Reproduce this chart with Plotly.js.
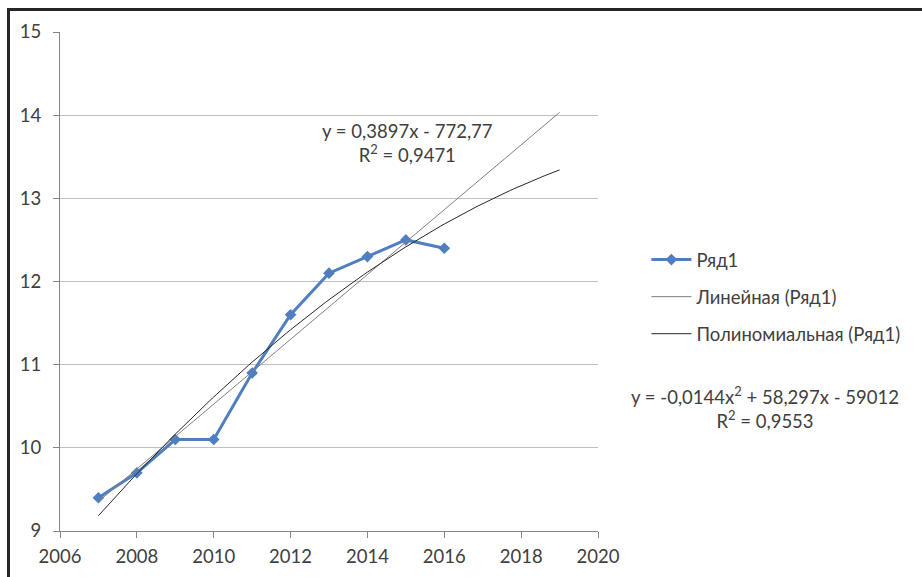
<!DOCTYPE html>
<html>
<head>
<meta charset="utf-8">
<script src="https://cdn.plot.ly/plotly-3.0.1.min.js"></script>
<style>
  html, body { margin: 0; padding: 0; background: #ffffff; }
  #frame { position: absolute; left: 7px; top: 8px; width: 1000px; height: 1000px;
           border-left: 3px solid #262626; border-top: 3px solid #262626; }
  #chart { position: absolute; left: 0; top: 0; width: 922px; height: 577px; }
</style>
</head>
<body>
<div id="frame"></div>
<div id="chart"></div>
<script>
// Data
const years = [2007, 2008, 2009, 2010, 2011, 2012, 2013, 2014, 2015, 2016];
const values = [9.4, 9.7, 10.1, 10.1, 10.9, 11.6, 12.1, 12.3, 12.5, 12.4];
const seriesName = "Ряд1";
const linearName = "Линейная (Ряд1)";
const polyName = "Полиномиальная (Ряд1)";
const linearLabel = "y = 0,3897x - 772,77<br>R<sup>2</sup> = 0,9471";
const polyLabel = "y = -0,0144x<sup>2</sup> + 58,297x - 59012<br>R<sup>2</sup> = 0,9553";
const forecastForward = 3; // trendline forecast periods

// Least-squares fits computed from the data (as the spreadsheet does)
const n = years.length;
const xm = years.reduce((a, b) => a + b, 0) / n;
const t = years.map(x => x - xm);
const S2 = t.reduce((a, v) => a + v * v, 0);
const S3 = t.reduce((a, v) => a + v * v * v, 0);
const S4 = t.reduce((a, v) => a + v * v * v * v, 0);
const Sy = values.reduce((a, b) => a + b, 0);
const Sty = t.reduce((a, v, i) => a + v * values[i], 0);
const St2y = t.reduce((a, v, i) => a + v * v * values[i], 0);
const linB = Sty / S2, linA = Sy / n;
function solve3(M, r) {
  const A = M.map((row, i) => row.concat([r[i]]));
  for (let c = 0; c < 3; c++) {
    let p = c; for (let k = c + 1; k < 3; k++) if (Math.abs(A[k][c]) > Math.abs(A[p][c])) p = k;
    [A[c], A[p]] = [A[p], A[c]];
    for (let k = 0; k < 3; k++) if (k !== c) {
      const f = A[k][c] / A[c][c];
      for (let j = c; j < 4; j++) A[k][j] -= f * A[c][j];
    }
  }
  return [A[0][3] / A[0][0], A[1][3] / A[1][1], A[2][3] / A[2][2]];
}
const [qa, qb, qc] = solve3([[n, 0, S2], [0, S2, S3], [S2, S3, S4]], [Sy, Sty, St2y]);

const x0 = years[0], x1 = years[n - 1] + forecastForward;
const tx = [];
for (let k = 0; k <= 120; k++) tx.push(x0 + (x1 - x0) * k / 120);
const linY = tx.map(x => linA + linB * (x - xm));
const polyY = tx.map(x => { const u = x - xm; return qa + qb * u + qc * u * u; });

const txtColor = "#404040";
const fontFam = "Lato, 'Open Sans', sans-serif";
const fs = 18.5;

const traces = [
  { x: years, y: values, name: seriesName, type: "scatter", mode: "lines+markers",
    line: { color: "#4f7fc0", width: 3 }, marker: { symbol: "diamond", size: 9, color: "#4f7fc0" },
    legendgroup: "a" },
  { x: tx, y: linY, name: linearName, type: "scatter", mode: "lines",
    line: { color: "#7f7f7f", width: 1 }, legendgroup: "b" },
  { x: tx, y: polyY, name: polyName, type: "scatter", mode: "lines",
    line: { color: "#262626", width: 1 }, legendgroup: "c" }
];

const layout = {
  width: 922, height: 577,
  margin: { l: 60, r: 324, t: 32, b: 46 },
  paper_bgcolor: "rgba(0,0,0,0)", plot_bgcolor: "rgba(0,0,0,0)",
  font: { family: fontFam, size: fs, color: txtColor },
  showlegend: true,
  legend: { x: 1.09, xanchor: "left", y: 0.581, yanchor: "top", traceorder: "grouped",
            tracegroupgap: 10, itemwidth: 40, font: { size: fs, color: txtColor }, bgcolor: "rgba(0,0,0,0)" },
  xaxis: { range: [2006, 2020], dtick: 2, showgrid: false, zeroline: false,
           showline: true, linecolor: "#868686", linewidth: 1,
           ticks: "outside", ticklen: 6, tickcolor: "#868686", ticklabelstandoff: 3,
           tickfont: { size: fs, color: txtColor }, fixedrange: true },
  yaxis: { range: [9, 15], dtick: 1, showgrid: true, gridcolor: "#c0c0c0", gridwidth: 1,
           zeroline: false, showline: true, linecolor: "#868686", linewidth: 1,
           ticks: "outside", ticklen: 6, tickcolor: "#868686", ticklabelstandoff: 8,
           tickfont: { size: fs, color: txtColor }, fixedrange: true },
  annotations: [
    { text: linearLabel, x: 2015.03, y: 13.67, xref: "x", yref: "y", showarrow: false,
      xanchor: "center", yanchor: "middle", align: "center", font: { size: fs, color: txtColor } },
    { text: polyLabel, xref: "paper", yref: "paper", x: (765 - 60) / 538, y: (531 - 407) / 499,
      showarrow: false, xanchor: "center", yanchor: "middle", align: "center",
      font: { size: fs, color: txtColor } }
  ]
};

Plotly.newPlot("chart", traces, layout, { displayModeBar: false, staticPlot: true });
</script>
</body>
</html>
